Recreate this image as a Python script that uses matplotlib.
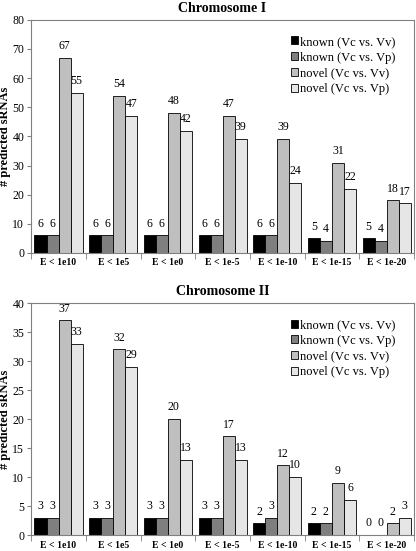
import numpy as np
import matplotlib
matplotlib.use("Agg")
import matplotlib.pyplot as plt

plt.rcParams['font.family'] = ['Liberation Serif', 'DejaVu Serif']

categories = ['E < 1e10', 'E < 1e5', 'E < 1e0', 'E < 1e-5', 'E < 1e-10', 'E < 1e-15', 'E < 1e-20']
series_names = ['known (Vc vs. Vv)', 'known (Vc vs. Vp)', 'novel (Vc vs. Vv)', 'novel (Vc vs. Vp)']
colors = ['#000000', '#7f7f7f', '#bfbfbf', '#e6e6e6']

chr1_known_vv = [6, 6, 6, 6, 6, 5, 5]
chr1_known_vp = [6, 6, 6, 6, 6, 4, 4]
chr1_novel_vv = [67, 54, 48, 47, 39, 31, 18]
chr1_novel_vp = [55, 47, 42, 39, 24, 22, 17]

chr2_known_vv = [3, 3, 3, 3, 2, 2, 0]
chr2_known_vp = [3, 3, 3, 3, 3, 2, 0]
chr2_novel_vv = [37, 32, 20, 17, 12, 9, 2]
chr2_novel_vp = [33, 29, 13, 13, 10, 6, 3]


def draw(ax, title, data, ymax, ystep):
    x = np.arange(len(categories))
    w = 0.22
    for i, (vals, c, name) in enumerate(zip(data, colors, series_names)):
        pos = x + (i - 1.5) * w
        ax.bar(pos, vals, w, color=c, edgecolor='black', linewidth=0.6, label=name)
        for p, v in zip(pos, vals):
            ax.text(p, v + ymax * 0.025, str(v), ha='center', va='bottom', fontsize=8.5)
    ax.set_xlim(-0.5, len(categories) - 0.5)
    ax.set_ylim(0, ymax)
    ax.set_yticks(np.arange(0, ymax + 1, ystep))
    ax.set_xticks(x)
    ax.set_xticklabels(categories, fontsize=7, fontweight='bold')
    ax.set_xticks(np.arange(-0.5, len(categories)), minor=True)
    ax.tick_params(axis='x', which='major', length=0, pad=4)
    ax.tick_params(axis='x', which='minor', length=4, color='gray')
    ax.tick_params(axis='y', labelsize=8.5, length=3, pad=2, color='gray')
    for s in ax.spines.values():
        s.set_color('gray')
        s.set_linewidth(0.8)
    ax.set_title(title, fontsize=10, fontweight='bold', pad=6)
    ax.set_ylabel('# predicted sRNAs', fontsize=9, fontweight='bold', labelpad=1)
    ax.legend(loc='upper right', frameon=False, fontsize=9, handlelength=0.6,
              handleheight=0.6, handletextpad=0.15, labelspacing=0.3,
              borderaxespad=0.6, bbox_to_anchor=(0.985, 0.985))


fig = plt.figure(figsize=(4.16, 5.51), dpi=100)
ax1 = fig.add_axes([0.075, 0.541, 0.92, 0.423])
ax2 = fig.add_axes([0.075, 0.029, 0.92, 0.421])

draw(ax1, 'Chromosome I', [chr1_known_vv, chr1_known_vp, chr1_novel_vv, chr1_novel_vp], 80, 10)
draw(ax2, 'Chromosome II', [chr2_known_vv, chr2_known_vp, chr2_novel_vv, chr2_novel_vp], 40, 5)

fig.savefig('out.png', dpi=100)
